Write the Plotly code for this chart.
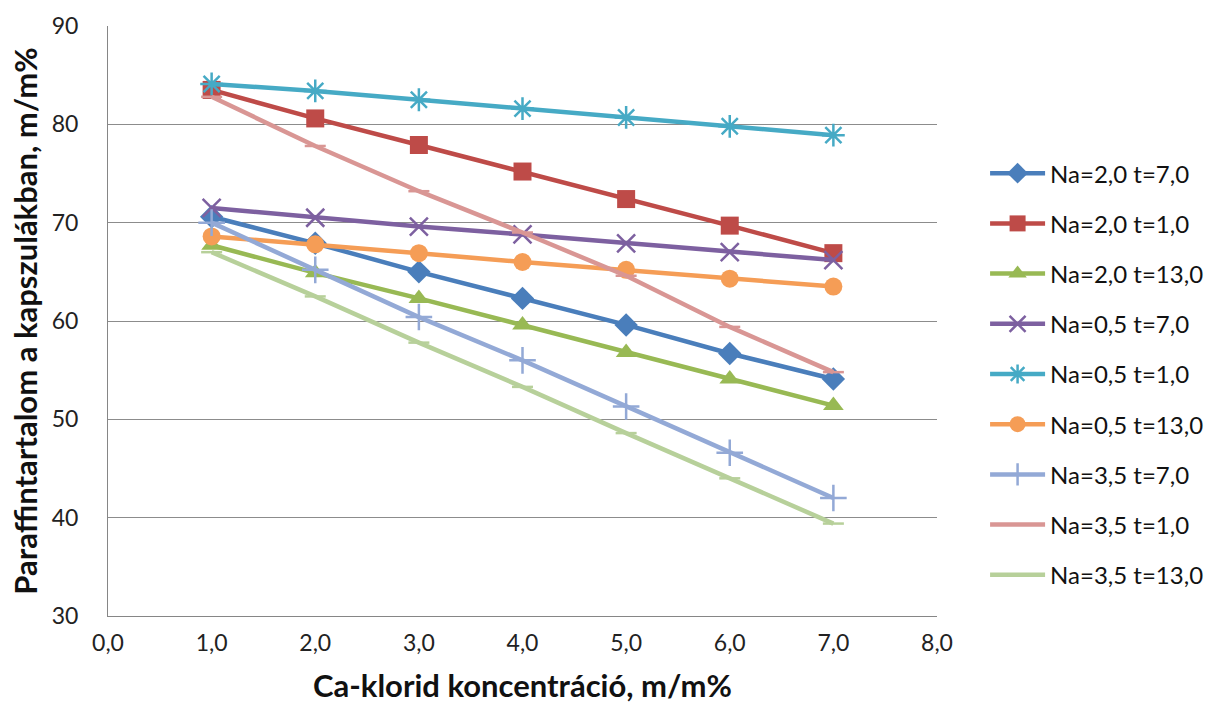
import plotly.graph_objects as go

x_vals = [1.0, 2.0, 3.0, 4.0, 5.0, 6.0, 7.0]

series_names = [
    "Na=2,0 t=7,0", "Na=2,0 t=1,0", "Na=2,0 t=13,0",
    "Na=0,5 t=7,0", "Na=0,5 t=1,0", "Na=0,5 t=13,0",
    "Na=3,5 t=7,0", "Na=3,5 t=1,0", "Na=3,5 t=13,0",
]

na20_t7 = [70.6, 67.9, 65.0, 62.3, 59.6, 56.7, 54.1]
na20_t1 = [83.5, 80.6, 77.9, 75.2, 72.4, 69.7, 66.9]
na20_t13 = [67.7, 64.9, 62.3, 59.6, 56.8, 54.1, 51.4]
na05_t7 = [71.5, 70.5, 69.6, 68.8, 67.9, 67.0, 66.2]
na05_t1 = [84.1, 83.4, 82.5, 81.6, 80.7, 79.8, 78.9]
na05_t13 = [68.6, 67.8, 66.9, 66.0, 65.2, 64.3, 63.5]
na35_t7 = [70.0, 65.2, 60.4, 56.0, 51.3, 46.6, 42.0]
na35_t1 = [82.8, 77.8, 73.2, 69.0, 64.6, 59.4, 54.8]
na35_t13 = [67.0, 62.5, 57.8, 53.3, 48.6, 44.0, 39.4]

series_values = [na20_t7, na20_t1, na20_t13, na05_t7, na05_t1, na05_t13,
                 na35_t7, na35_t1, na35_t13]

colors = ["#4A7EBB", "#BE4B48", "#98B954", "#7D60A0", "#46AAC5", "#F59D56",
          "#93A9D6", "#D99694", "#B7D09A"]
symbols = ["diamond", "square", "triangle-up", "x-thin-open", "asterisk-open",
           "circle", "cross-thin-open", "line-ew-open", "line-ew-open"]
sizes = [18, 18, 18, 18, 19, 18, 19, 15, 15]

x_ticks = [0, 1, 2, 3, 4, 5, 6, 7, 8]
x_ticktext = ["0,0", "1,0", "2,0", "3,0", "4,0", "5,0", "6,0", "7,0", "8,0"]
y_ticks = [30, 40, 50, 60, 70, 80, 90]

fig = go.Figure()
for i, (name, vals) in enumerate(zip(series_names, series_values)):
    open_sym = symbols[i].endswith("-open")
    fig.add_trace(go.Scatter(
        x=x_vals, y=vals, name=name, mode="lines+markers",
        legendgroup="g%d" % i,
        line=dict(color=colors[i], width=4.5),
        marker=dict(symbol=symbols[i], size=sizes[i], color=colors[i],
                    line=dict(color=colors[i], width=2.5 if open_sym else 0)),
    ))

font_family = "Lato, 'Open Sans', sans-serif"

fig.update_layout(
    width=1213, height=714,
    margin=dict(l=108, r=276, t=26, b=98, autoexpand=False),
    paper_bgcolor="white", plot_bgcolor="white",
    font=dict(family=font_family, color="#222222", size=22),
    showlegend=True,
    legend=dict(
        x=1.058, xanchor="left", y=0.41, yanchor="middle",
        font=dict(size=24, color="#111111", family=font_family),
        tracegroupgap=16, itemwidth=55, bgcolor="rgba(0,0,0,0)",
    ),
    xaxis=dict(
        range=[0, 8], tickmode="array", tickvals=x_ticks, ticktext=x_ticktext,
        showgrid=False, zeroline=False, showline=True, linecolor="#868686",
        linewidth=1, ticks="", ticklabelstandoff=6,
        tickfont=dict(size=23, color="#222222"),
        title=dict(text="<b>Ca-klorid koncentráció, m/m%</b>",
                   font=dict(size=31, color="#111111"), standoff=20),
    ),
    yaxis=dict(
        range=[30, 90], tickmode="array", tickvals=y_ticks,
        showgrid=True, gridcolor="#8C8C8C", gridwidth=1,
        zeroline=False, showline=True, linecolor="#868686", linewidth=1,
        ticks="", ticklabelstandoff=24,
        tickfont=dict(size=23, color="#222222"),
        title=dict(text="<b>Paraffintartalom a kapszulákban, m/m%</b>",
                   font=dict(size=31, color="#111111"), standoff=4),
    ),
)

fig.write_html("out.html")
